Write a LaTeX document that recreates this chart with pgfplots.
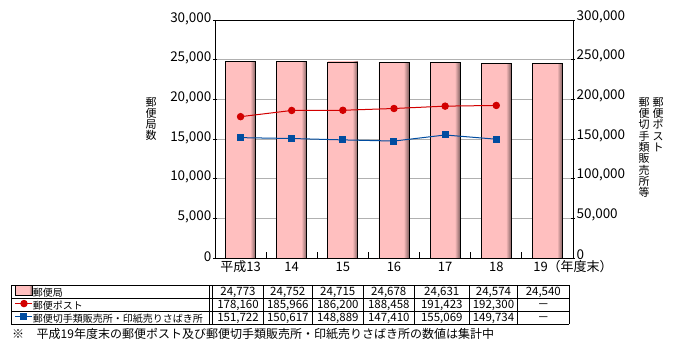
\documentclass[border=0pt]{standalone}
\usepackage{fontspec}
\setmainfont{Noto Sans CJK JP}
\usepackage{pgfplots}
\pgfplotsset{compat=1.18}
\definecolor{barpink}{RGB}{255,191,191}
\colorlet{bardark}{barpink!50!black}
\definecolor{lred}{RGB}{210,0,0}
\definecolor{lblue}{RGB}{0,76,160}
\definecolor{gridgray}{RGB}{176,176,176}
\pgfdeclarehorizontalshading{barshade}{100bp}{color(0bp)=(barpink); color(25bp)=(barpink); color(66bp)=(barpink); color(75bp)=(bardark); color(100bp)=(bardark)}
\pgfplotsset{
  lineleg/.style={legend image code/.code={\draw[##1, mark repeat=2, mark phase=2] plot coordinates {(0pt,3.5pt) (8.5pt,3.5pt) (17pt,3.5pt)};}},
  barleg/.style={legend image code/.code={\draw[draw=black, line width=0.75pt, shade, shading=barshade] (0pt,-1.5pt) rectangle (16.5pt,8.5pt);}},
  onebar/.style={ybar, bar width=30pt, draw=black, line width=0.75pt, shade, shading=barshade},
}
\begin{document}
\begin{tikzpicture}
\useasboundingbox (0pt,0pt) rectangle (675pt,354pt);
% ---------- left axis: post offices (bars)
\begin{axis}[
  at={(215pt,96pt)}, anchor=south west,
  scale only axis, width=358pt, height=238pt,
  xmin=-0.5, xmax=6.5, ymin=0, ymax=30000,
  axis line style={black, line width=0.75pt},
  ytick={0,5000,...,30000},
  ymajorgrids, grid style={gridgray, line width=0.75pt},
  ytick pos=left, xtick pos=bottom,
  tick align=inside,
  xtick={0,...,6},
  xticklabels={平成13,14,15,16,17,18,{}},
  major x tick style={draw=none},
  minor xtick={0.5,1.5,...,5.5},
  minor tick length=6pt,
  major tick length=4pt,
  y tick style={black, line width=0.75pt, xshift=-2pt},
  minor x tick style={black, line width=0.75pt},
  scaled y ticks=false,
  yticklabel style={font=\fontsize{13.5}{13.5}\selectfont, inner ysep=0pt, yshift=1.5pt, /pgf/number format/fixed, /pgf/number format/1000 sep={,}, /pgf/number format/assume math mode=true},
  xticklabel style={font=\fontsize{13}{13}\selectfont, anchor=base, yshift=-13.5pt},
  clip=false,
]
\addplot[onebar] coordinates {(0,24773)};
\addplot[onebar] coordinates {(1,24752)};
\addplot[onebar] coordinates {(2,24715)};
\addplot[onebar] coordinates {(3,24678)};
\addplot[onebar] coordinates {(4,24631)};
\addplot[onebar] coordinates {(5,24574)};
\addplot[onebar] coordinates {(6,24540)};
\node[anchor=base west, font=\fontsize{13}{13}\selectfont, inner sep=0pt, yshift=-13.5pt] at (axis cs:5.72,0) {19（年度末）};
\end{axis}
% ---------- right axis: posts and stamp vendors (lines)
\begin{axis}[
  at={(215pt,96pt)}, anchor=south west,
  scale only axis, width=358pt, height=238pt,
  xmin=-0.5, xmax=6.5, ymin=0, ymax=300000,
  axis x line=none, axis y line*=right,
  axis line style={black, line width=0.75pt},
  ytick={0,50000,...,300000},
  tick align=inside, major tick length=4pt,
  y tick style={black, line width=0.75pt, xshift=2pt},
  scaled y ticks=false,
  yticklabel style={font=\fontsize{13.5}{13.5}\selectfont, inner ysep=0pt, yshift=3.5pt, /pgf/number format/fixed, /pgf/number format/1000 sep={,}, /pgf/number format/assume math mode=true},
  clip=false,
  legend style={at={(axis description cs:-0.5587,-0.1134)}, anchor=north west, draw=none, fill=none,
    inner sep=0pt, outer sep=0pt, row sep=0pt,
    font=\fontsize{10}{10}\selectfont,
    nodes={inner sep=0pt, text height=9pt, text depth=4pt},
    /tikz/every even column/.append style={column sep=3pt}},
  legend cell align=left,
]
\addlegendimage{barleg}
\addlegendentry{郵便局}
\addplot[color=lred, line width=1pt, mark=*, mark size=3.2pt, mark options={fill=lred}, lineleg]
  coordinates {(0,178160) (1,185966) (2,186200) (3,188458) (4,191423) (5,192300)};
\addlegendentry{郵便ポスト}
\addplot[color=lblue, line width=1pt, mark=square*, mark size=3pt, mark options={fill=lblue}, lineleg]
  coordinates {(0,151722) (1,150617) (2,148889) (3,147410) (4,155069) (5,149734)};
\addlegendentry{郵便切手類販売所・印紙売りさばき所}
\end{axis}
% ---------- axis titles (vertical)
\node[anchor=north, align=center, inner sep=0pt, font=\fontsize{11}{11}\selectfont] at (151pt,257pt) {郵\\便\\局\\数};
\node[anchor=north, align=center, inner sep=0pt, font=\fontsize{11}{11.3}\selectfont] at (644pt,257pt) {郵\\便\\切\\手\\類\\販\\売\\所\\等};
\node[anchor=north, align=center, inner sep=0pt, font=\fontsize{11}{11.3}\selectfont] at (658pt,257pt) {郵\\便\\ポ\\ス\\ト};
% ---------- data table
\begin{scope}[line width=0.75pt]
\foreach \yy in {69,56,43,30} \draw (11pt,\yy pt) -- (569pt,\yy pt);
\foreach \xx in {11,209.5,212.5,263.3,312.3,363.3,414.3,469.3,517.7,569} \draw (\xx pt,69pt) -- (\xx pt,30pt);
\end{scope}
\foreach \c/\v in {238/{24,773},287.8/{24,752},337.8/{24,715},388.8/{24,678},441.8/{24,631},493.5/{24,574},543.3/{24,540}}
  \node[font=\fontsize{11.5}{11.5}\selectfont, inner sep=0pt, text height=8.4pt, text depth=0pt] at (\c pt,62.5pt) {\v};
\foreach \c/\v in {238/{178,160},287.8/{185,966},337.8/{186,200},388.8/{188,458},441.8/{191,423},493.5/{192,300},543.3/{－}}
  \node[font=\fontsize{11.5}{11.5}\selectfont, inner sep=0pt, text height=8.4pt, text depth=0pt] at (\c pt,49.5pt) {\v};
\foreach \c/\v in {238/{151,722},287.8/{150,617},337.8/{148,889},388.8/{147,410},441.8/{155,069},493.5/{149,734},543.3/{－}}
  \node[font=\fontsize{11.5}{11.5}\selectfont, inner sep=0pt, text height=8.4pt, text depth=0pt] at (\c pt,36.5pt) {\v};
% ---------- footnote
\node[anchor=west, inner sep=0pt, font=\fontsize{12}{12}\selectfont] at (12pt,20pt) {※};
\node[anchor=west, inner sep=0pt, font=\fontsize{12}{12}\selectfont] at (36.5pt,20pt) {平成19年度末の郵便ポスト及び郵便切手類販売所・印紙売りさばき所の数値は集計中};
\end{tikzpicture}
\end{document}
